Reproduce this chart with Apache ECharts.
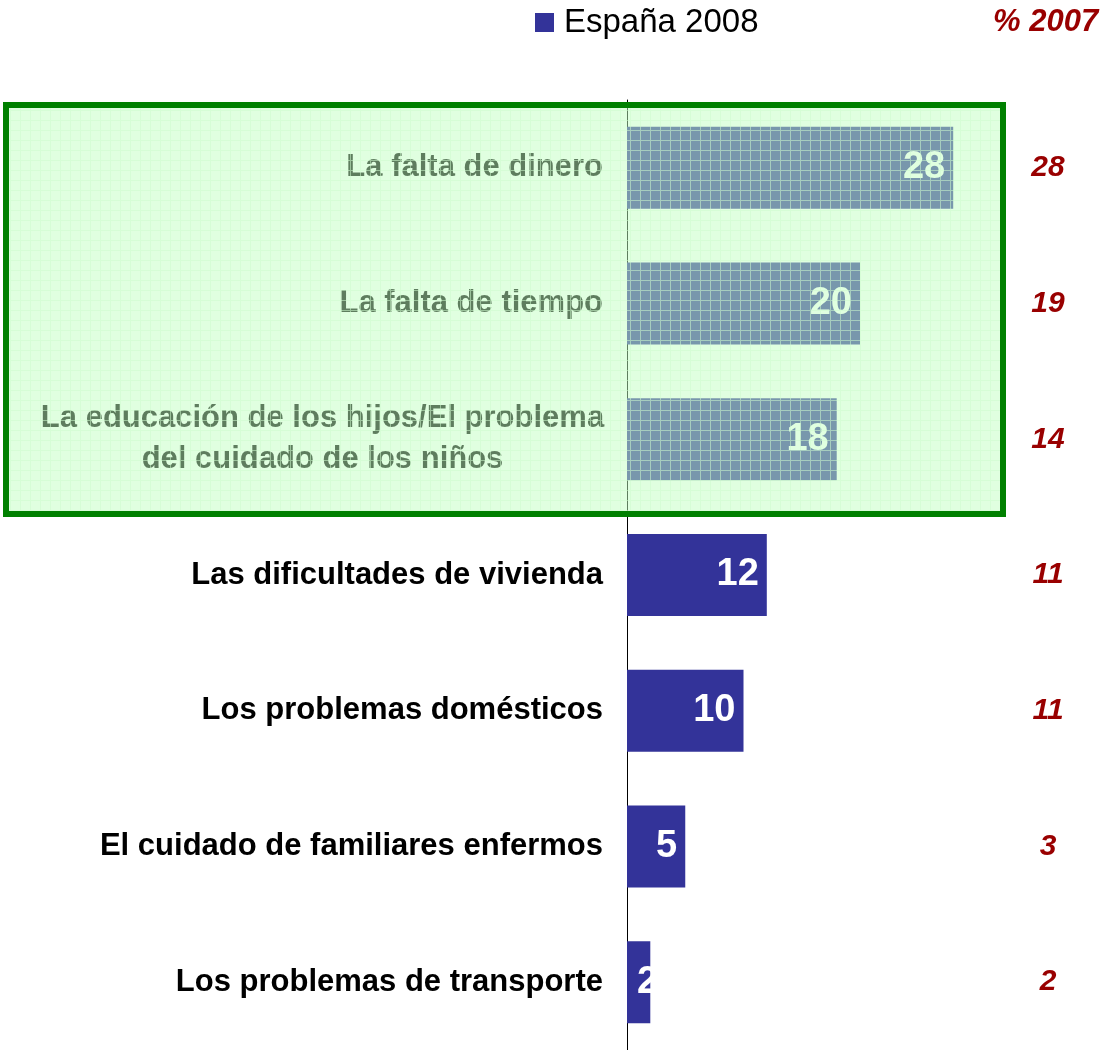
<!DOCTYPE html>
<html>
<head>
<meta charset="utf-8">
<script src="https://cdn.jsdelivr.net/npm/echarts@6/dist/echarts.min.js"></script>
<style>
html, body { margin: 0; padding: 0; background: #fff; }
#chart { width: 1102px; height: 1050px; }
</style>
</head>
<body>
<div id="chart"></div>
<script>
const categories = [
    "La falta de dinero",
    "La falta de tiempo",
    "La educación de los hijos/El problema\ndel cuidado de los niños",
    "Las dificultades de vivienda",
    "Los problemas domésticos",
    "El cuidado de familiares enfermos",
    "Los problemas de transporte"
]
const values2008 = [28, 20, 18, 12, 10, 5, 2]
const values2007 = [28, 19, 14, 11, 11, 3, 2]

const FONT = '"Liberation Sans", Arial, sans-serif'
const BAR_COLOR = '#333399'
const RED = '#990000'

// rejilla verde semitransparente del recuadro destacado
function makeGridPattern() {
    const c = document.createElement('canvas')
    c.width = 10
    c.height = 10
    const ctx = c.getContext('2d')
    ctx.fillStyle = 'rgba(192,255,192,0.49)'
    ctx.fillRect(0, 0, 10, 10)
    ctx.fillStyle = 'rgba(205,252,205,0.55)'
    ctx.fillRect(0, 0, 10, 1)
    ctx.fillRect(0, 1, 1, 9)
    return c
}

const chart = echarts.init(document.getElementById('chart'))

const barData = values2008.map((v) => {
    let item = {value: v}
    // barra demasiado estrecha: la etiqueta empieza dentro y se sale
    if (v < 4) {
        item.label = {position: 'insideLeft', distance: 10}
    }
    return item
})

const option = {
    animation: false,
    textStyle: {fontFamily: FONT},
    title: {
        text: '% 2007',
        left: 988,
        top: 2,
        textStyle: {fontFamily: FONT, fontSize: 31, fontWeight: 'bold', fontStyle: 'italic', color: RED}
    },
    legend: {
        data: ['España 2008'],
        left: 530,
        top: 1,
        icon: 'rect',
        itemWidth: 19,
        itemHeight: 19,
        textStyle: {fontFamily: FONT, fontSize: 33, color: '#000', padding: [0, 0, 0, 5]}
    },
    grid: {left: 627, right: 9, top: 100, bottom: 0, containLabel: false},
    xAxis: {
        type: 'value',
        min: 0,
        max: 40,
        show: false
    },
    yAxis: [
        {
            type: 'category',
            inverse: true,
            data: categories,
            axisLine: {show: true, lineStyle: {color: '#000', width: 1}},
            axisTick: {show: false},
            axisLabel: {
                margin: 24,
                fontFamily: FONT,
                fontSize: 31,
                fontWeight: 'bold',
                color: '#000',
                align: 'right',
                formatter: (val) => {
                    if (val.indexOf('\n') < 0) return val
                    return val.split('\n').map((s) => '{m|' + s + '}').join('\n')
                },
                rich: {
                    m: {
                        width: 561,
                        align: 'center',
                        lineHeight: 41,
                        fontFamily: FONT,
                        fontSize: 31,
                        fontWeight: 'bold',
                        color: '#000'
                    }
                }
            }
        },
        {
            type: 'category',
            inverse: true,
            position: 'right',
            offset: -45,
            data: values2007.map(String),
            axisLine: {show: false},
            axisTick: {show: false},
            axisLabel: {
                margin: 0,
                align: 'center',
                fontFamily: FONT,
                fontSize: 30,
                fontWeight: 'bold',
                fontStyle: 'italic',
                color: RED
            }
        }
    ],
    series: [
        {
            name: 'España 2008',
            type: 'bar',
            yAxisIndex: 0,
            barWidth: 82,
            itemStyle: {color: BAR_COLOR},
            label: {
                show: true,
                position: 'insideRight',
                distance: 8,
                fontFamily: FONT,
                fontSize: 38,
                fontWeight: 'bold',
                color: '#fff'
            },
            data: barData
        }
    ],
    graphic: [
        {
            type: 'rect',
            z: 100,
            shape: {x: 6, y: 105, width: 997, height: 409},
            style: {
                fill: {type: 'pattern', image: makeGridPattern(), repeat: 'repeat'},
                stroke: '#008000',
                lineWidth: 6
            }
        }
    ]
}

chart.setOption(option)
</script>
</body>
</html>
